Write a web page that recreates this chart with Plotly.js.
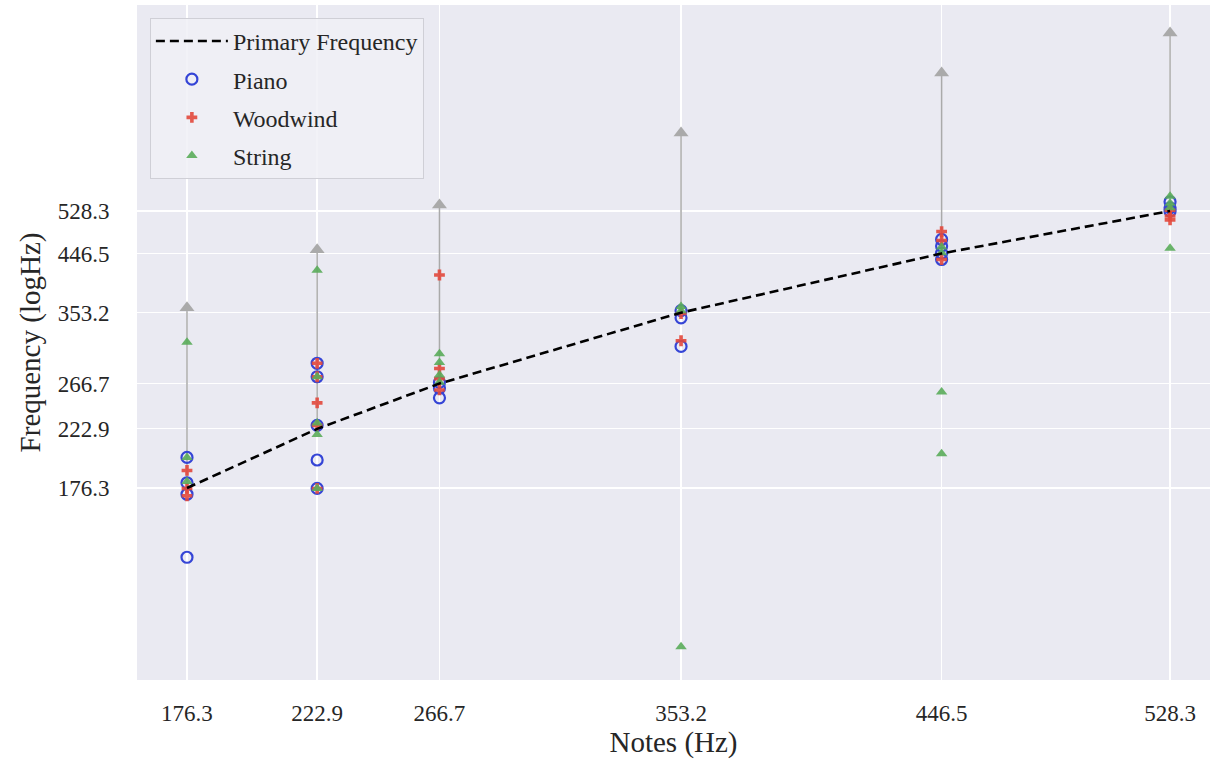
<!DOCTYPE html>
<html>
<head>
<meta charset="utf-8">
<script src="https://cdn.plot.ly/plotly-3.0.1.min.js"></script>
<style>html,body{margin:0;padding:0;background:#fff;}#chart{width:1212px;height:768px;}</style>
</head>
<body>
<div id="chart"></div>
<script>
// Notes (Hz) on the x axis and their primary frequency
const notes = [176.3, 222.9, 266.7, 353.2, 446.5, 528.3];
const noteLabels = ['176.3', '222.9', '266.7', '353.2', '446.5', '528.3'];
// Arrow tips (upper harmonic marks)
const harmonicTop = [360, 453, 541, 720, 913, 1069];
// Measured frequencies per note, per instrument family
const pianoVals = [[199, 180, 172, 134], [289, 274, 226, 197, 176], [268, 262, 252], [356, 346, 309], [472, 460, 447, 436], [548, 535, 528]];
const woodwindVals = [[189, 176, 171], [289, 274, 247, 226, 176], [410, 283, 272, 260], [352, 316], [487, 470, 436], [530, 518, 510]];
const stringVals = [[314, 199, 181], [418, 274, 228, 218, 176], [300, 290, 276, 268], [362, 356, 94], [458, 448, 258, 202], [560, 545, 535, 456]];

function flatten(vals) {
  const xs = [], ys = [];
  vals.forEach((arr, i) => arr.forEach(v => { xs.push(notes[i]); ys.push(v); }));
  return {x: xs, y: ys};
}

const arrowX = [], arrowY = [];
notes.forEach((n, i) => { arrowX.push(n, n, null); arrowY.push(n, harmonicTop[i], null); });

const FONT = 'Liberation Serif';
const TXT = '#262626';
const p = flatten(pianoVals), w = flatten(woodwindVals), s = flatten(stringVals);

const traces = [
  {x: arrowX, y: arrowY, mode: 'lines', line: {color: '#aaaaaa', width: 1.5}, showlegend: false, hoverinfo: 'skip'},
  {x: notes, y: harmonicTop, mode: 'markers', marker: {symbol: 'triangle-up', size: 13, color: '#aaaaaa'}, showlegend: false, hoverinfo: 'skip'},
  {x: p.x, y: p.y, mode: 'markers', name: 'Piano', legendgroup: 'b', legendrank: 2,
   marker: {symbol: 'circle-open', size: 11, color: '#3545d6', line: {width: 2.2, color: '#3545d6'}}},
  {x: w.x, y: w.y, mode: 'markers', name: 'Woodwind', legendgroup: 'c', legendrank: 3,
   marker: {symbol: 'cross', size: 9, color: '#e2483c', opacity: 0.9}},
  {x: s.x, y: s.y, mode: 'markers', name: 'String', legendgroup: 'd', legendrank: 4,
   marker: {symbol: 'triangle-up', size: 10, color: '#5aac5a', opacity: 0.9}},
  {x: notes, y: notes, mode: 'lines', name: 'Primary Frequency', legendgroup: 'a', legendrank: 1,
   line: {color: '#000000', width: 2.6, dash: '9px,5px'}}
];

const layout = {
  width: 1212, height: 768,
  paper_bgcolor: '#ffffff', plot_bgcolor: '#eaeaf2',
  margin: {l: 137, r: 2, t: 5, b: 88},
  font: {family: FONT, color: TXT, size: 23},
  xaxis: {
    type: 'linear', range: [158.4, 542.6],
    tickvals: notes, ticktext: noteLabels,
    ticks: 'outside', ticklen: 12, tickcolor: 'rgba(0,0,0,0)',
    showgrid: true, gridcolor: '#ffffff', gridwidth: 1.3, zeroline: false, showline: false,
    tickfont: {family: FONT, size: 23, color: TXT},
    title: {text: 'Notes (Hz)', font: {family: FONT, size: 29, color: TXT}, standoff: 4}
  },
  yaxis: {
    type: 'log', range: [Math.log10(82.4), Math.log10(1195)],
    tickvals: notes, ticktext: noteLabels,
    ticks: 'outside', ticklen: 22, tickcolor: 'rgba(0,0,0,0)',
    showgrid: true, gridcolor: '#ffffff', gridwidth: 1.3, zeroline: false, showline: false,
    tickfont: {family: FONT, size: 23, color: TXT},
    title: {text: 'Frequency (logHz)', font: {family: FONT, size: 29, color: TXT}, standoff: 8}
  },
  showlegend: true,
  legend: {
    x: 0.012, y: 0.981, xanchor: 'left', yanchor: 'top',
    bgcolor: 'rgba(240,240,246,0.85)', bordercolor: '#cfcfd6', borderwidth: 1,
    font: {family: 'Times New Roman', size: 24, color: TXT},
    traceorder: 'grouped', tracegroupgap: 4, itemwidth: 72
  }
};

Plotly.newPlot('chart', traces, layout, {displayModeBar: false, staticPlot: true});
</script>
</body>
</html>
